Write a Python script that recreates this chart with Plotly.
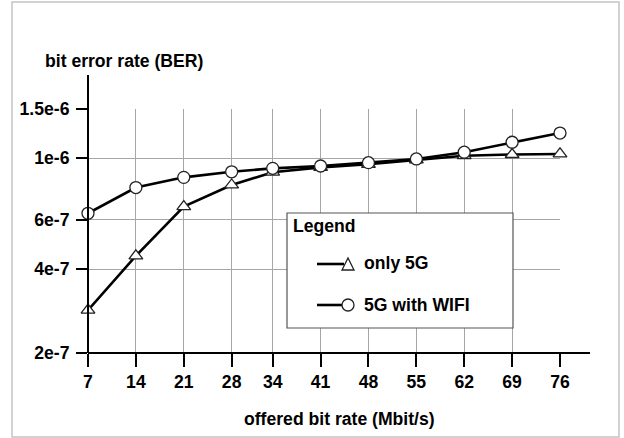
import math
import plotly.graph_objects as go

# Offered bit rate (Mbit/s) on the x axis
rates = [7, 14, 21, 28, 34, 41, 48, 55, 62, 69, 76]

# Bit error rate for each configuration
ber_only_5g = [2.85e-7, 4.46e-7, 6.70e-7, 8.01e-7, 8.90e-7, 9.26e-7,
               9.50e-7, 9.85e-7, 1.02e-6, 1.03e-6, 1.035e-6]
ber_5g_wifi = [6.34e-7, 7.84e-7, 8.53e-7, 8.93e-7, 9.19e-7, 9.37e-7,
               9.63e-7, 9.93e-7, 1.05e-6, 1.14e-6, 1.23e-6]

# Log-axis ticks
y_tickvals = [2e-7, 4e-7, 6e-7, 1e-6, 1.5e-6]
y_ticktext = ["2e-7", "4e-7", "6e-7", "1e-6", "1.5e-6"]

FIG_W, FIG_H = 624, 438
L, R, T, B = 88, 64, 109, 85
PW, PH = FIG_W - L - R, FIG_H - T - B
FONT = "Liberation Sans, Arial, Helvetica, sans-serif"
FS = 17.6


def fx(px):
    return (px - L) / PW


def fy(py):
    return (FIG_H - B - py) / PH


line_style = dict(color="black", width=2.6)

fig = go.Figure()
fig.add_trace(go.Scatter(
    x=rates, y=ber_only_5g, mode="lines+markers", name="only 5G",
    line=line_style, cliponaxis=False,
    marker=dict(symbol="triangle-up", size=12, color="white",
                line=dict(color="#222", width=1.3)),
))
fig.add_trace(go.Scatter(
    x=rates, y=ber_5g_wifi, mode="lines+markers", name="5G with WIFI",
    line=line_style, cliponaxis=False,
    marker=dict(symbol="circle", size=12, color="white",
                line=dict(color="#222", width=1.3)),
))

tickfont = dict(family=FONT, size=FS, color="black", weight="bold")
grid_col = "#a6a6a6"

fig.update_xaxes(
    type="linear", range=[7, 76], tickvals=rates,
    ticks="outside", ticklen=13, tickwidth=2, tickcolor="black",
    showgrid=True, gridcolor=grid_col, gridwidth=1,
    showline=False, zeroline=False, tickfont=tickfont,
)
fig.update_yaxes(
    type="log", range=[math.log10(2e-7), math.log10(1.5e-6)],
    tickvals=y_tickvals, ticktext=y_ticktext,
    ticks="outside", ticklen=11, tickwidth=2, tickcolor="black",
    ticklabelstandoff=3,
    showgrid=True, gridcolor=grid_col, gridwidth=1,
    showline=False, zeroline=False, tickfont=tickfont,
)

shapes = [
    # outer frame
    dict(type="rect", xref="paper", yref="paper",
         x0=fx(12), x1=fx(619), y0=fy(437), y1=fy(2),
         line=dict(color="#c4c4c4", width=1.5), layer="below"),
    # axis lines, extended past the grid
    dict(type="line", xref="paper", yref="paper",
         x0=0, x1=0, y0=0, y1=fy(75), line=dict(color="black", width=2)),
    dict(type="line", xref="paper", yref="paper",
         x0=0, x1=fx(590), y0=0, y1=0, line=dict(color="black", width=2)),
    # legend box
    dict(type="rect", xref="paper", yref="paper",
         x0=fx(287), x1=fx(513), y0=fy(328), y1=fy(213),
         fillcolor="white", line=dict(color="#555", width=1.2), layer="above"),
    # legend line samples
    dict(type="line", xref="paper", yref="paper",
         x0=fx(317), x1=fx(344), y0=fy(264), y1=fy(264),
         line=line_style, layer="above"),
    dict(type="line", xref="paper", yref="paper",
         x0=fx(317), x1=fx(344), y0=fy(305), y1=fy(305),
         line=line_style, layer="above"),
    # legend triangle
    dict(type="path", xref="paper", yref="paper",
         path=(f"M {fx(342)} {fy(270)} L {fx(354)} {fy(270)} "
               f"L {fx(348)} {fy(258)} Z"),
         fillcolor="white", line=dict(color="#222", width=1.3), layer="above"),
    # legend circle
    dict(type="circle", xref="paper", yref="paper",
         x0=fx(342), x1=fx(354), y0=fy(311), y1=fy(299),
         fillcolor="white", line=dict(color="#222", width=1.3), layer="above"),
]

text_font = dict(family=FONT, size=FS, color="black", weight="bold")
annotations = [
    dict(text="bit error rate (BER)", x=fx(124), y=fy(61),
         xanchor="center", yanchor="middle"),
    dict(text="offered bit rate (Mbit/s)", x=fx(339), y=fy(419),
         xanchor="center", yanchor="middle"),
    dict(text="Legend", x=fx(291), y=fy(226), xanchor="left", yanchor="middle"),
    dict(text="only 5G", x=fx(362), y=fy(263), xanchor="left", yanchor="middle"),
    dict(text="5G with WIFI", x=fx(362), y=fy(305), xanchor="left", yanchor="middle"),
]
for a in annotations:
    a.update(xref="paper", yref="paper", showarrow=False, font=text_font)

fig.update_layout(
    width=FIG_W, height=FIG_H,
    margin=dict(l=L, r=R, t=T, b=B, pad=0),
    paper_bgcolor="white", plot_bgcolor="white",
    showlegend=False,
    shapes=shapes, annotations=annotations,
    font=dict(family=FONT),
)

fig.write_html("out.html")
